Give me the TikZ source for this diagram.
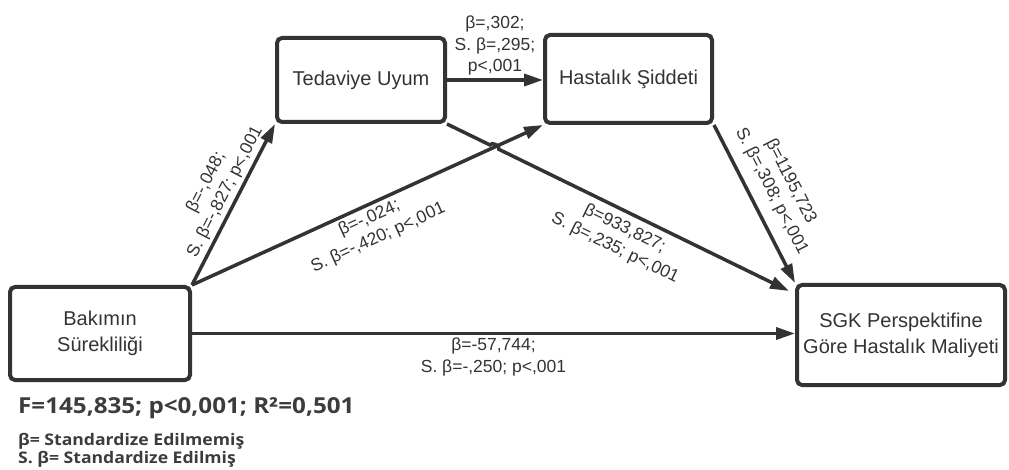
\documentclass[tikz,border=0pt]{standalone}
\usepackage{fontspec}
\setmainfont{Liberation Sans}
\newfontfamily\notefont{Open Sans}[FakeStretch=1.1]
\usetikzlibrary{arrows.meta,calc,intersections}
\definecolor{linegray}{RGB}{51,51,51}
\definecolor{notegray}{RGB}{60,60,60}

\begin{document}
\begin{tikzpicture}[x=1pt,y=-1pt]
            \tikzstyle{construct} = [draw=linegray, line width=4pt, rounded corners=5pt, text=linegray, align=center, inner sep=0pt, font=\fontsize{20}{26}\selectfont]
            \tikzstyle{effect} = [draw=linegray, line width=3.5pt, -{Triangle[length=19pt,width=12pt]}]
            \tikzstyle{coef} = [text=linegray, align=center, inner sep=3pt, font=\fontsize{17.5}{21.5}\selectfont]
            \tikzstyle{fitnote} = [text=notegray, inner sep=0pt, anchor=base west, font=\notefont\bfseries\fontsize{22}{26}\selectfont]
            \tikzstyle{legendnote} = [text=notegray, inner sep=0pt, anchor=base west, font=\notefont\bfseries\fontsize{16}{19}\selectfont]
            \useasboundingbox (0,0) rectangle (1009,470);

            % variables
            \node[construct, minimum width=180pt, minimum height=93pt] (bakim) at (100,333.5) {Bakımın\\Sürekliliği};
            \node[construct, minimum width=168pt, minimum height=84pt] (tedavi) at (361,80) {Tedaviye Uyum};
            \node[construct, minimum width=167pt, minimum height=88pt] (hastalik) at (628.5,79) {Hastalık Şiddeti};
            \node[construct, minimum width=208pt, minimum height=100pt] (maliyet) at (901,335) {SGK Perspektifine\\Göre Hastalık Maliyeti};
            \coordinate (tsend) at ($(maliyet.north west)+(-6,8)$);

            % paths
            \draw[effect] (bakim.north east) -- (tedavi.south west)
                node[coef, sloped, above, pos=0.54]{β=-,048;\\S. β=-,827; p<,001};
            \draw[effect, name path=bh] (bakim.north east) -- (hastalik.south west)
                node[coef, sloped, below, pos=0.49]{β=-,024;\\S. β=-,420; p<,001};
            \draw[effect] (tedavi.east) -- (tedavi.east -| hastalik.west)
                node[coef, above, midway]{β=,302;\\S. β=,295;\\p<,001};
            \path[name path=ts] (tedavi.south east) -- (tsend)
                node[coef, sloped, below=5pt, pos=0.54]{β=933,827;\\S. β=,235; p<,001};
            \path[name intersections={of=bh and ts, by=hop}];
            \draw[effect] (tedavi.south east) -- ($(hop)!5pt!(tedavi.south east)$)
                to[bend left=90] ($(hop)!5pt!(tsend)$) -- (tsend);
            \draw[effect] (hastalik.south east) -- (maliyet.north west)
                node[coef, sloped, above=8pt, pos=0.48]{β=1195,723\\S. β=,308; p<,001};
            \draw[effect] (bakim.east) -- (bakim.east -| maliyet.west)
                node[coef, below, midway]{β=-57,744;\\S. β=-,250; p<,001};

            % model summary
            \node[fitnote] (fit) at (18,413) {F=145,835; p<0,001; R²=0,501};
            \node[legendnote] (beta) at (18,445) {β= Standardize Edilmemiş};
            \node[legendnote] (sbeta) at (18,463) {S. β= Standardize Edilmiş};
\end{tikzpicture}
\end{document}
